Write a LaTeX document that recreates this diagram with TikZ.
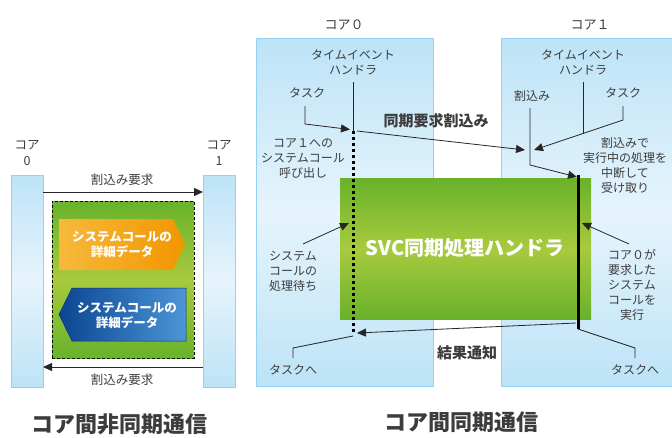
\documentclass[tikz,border=0pt]{standalone}
\usepackage{fontspec}
\setmainfont{Noto Sans CJK JP}
\usetikzlibrary{arrows.meta}
\definecolor{tx}{HTML}{3C3C3C}
\definecolor{pnlTop}{HTML}{BDE3F7}
\definecolor{pnlMid}{HTML}{E6F4FC}
\definecolor{pnlEdge}{HTML}{93D2F2}
\definecolor{grTop}{HTML}{68B22A}
\definecolor{grMid}{HTML}{A8CA3E}
\definecolor{orL}{HTML}{F6B93A}
\definecolor{orR}{HTML}{F29600}
\definecolor{blL}{HTML}{0B4593}
\definecolor{blR}{HTML}{4C95D6}
\begin{document}
\begin{tikzpicture}[x=1pt,y=-1pt,
  every node/.style={inner sep=0pt, outer sep=0pt},
  lbl/.style={text=tx, align=center, font=\fontsize{12}{15}\selectfont},
  title/.style={text=tx, font=\fontsize{22}{24}\selectfont\bfseries},
  mid/.style={text=tx, font=\fontsize{15}{18}\selectfont\bfseries},
  wtxt/.style={text=white, align=center, font=\fontsize{12.5}{15}\selectfont\bfseries},
  panel/.style={draw=pnlEdge, line width=0.8pt, top color=pnlTop, bottom color=pnlTop, middle color=pnlMid},
  greenbox/.style={top color=grTop, bottom color=grTop, middle color=grMid},
  conn/.style={draw=black!85, line width=0.8pt},
  arr/.style={conn, -{Triangle[length=9pt,width=8pt]}},
  dotline/.style={draw=black, line width=3pt, dash pattern=on 3pt off 3pt},
  bar/.style={draw=black, line width=3pt}]
\useasboundingbox (0,0) rectangle (672,437);

% ---------------- left: asynchronous ----------------
\node[panel, minimum width=32pt, minimum height=212pt] (lb0) at (27,281) {};
\node[panel, minimum width=32pt, minimum height=212pt] (lb1) at (219,281) {};
\node[lbl, font=\fontsize{12.5}{16}\selectfont] (lh0) at (27,153) {コア\\0};
\node[lbl, font=\fontsize{12.5}{16}\selectfont] (lh1) at (219,153) {コア\\1};

\node[greenbox, draw=black, line width=0.8pt, dash pattern=on 3pt off 2pt,
      minimum width=142pt, minimum height=157pt] (gbox) at (123,279.5) {};

\shade[left color=orL, right color=orR] (59,219) -- (173,219) -- (185,244.5) -- (173,270) -- (59,270) -- cycle;
\node[wtxt] (orT) at (122,244.5) {システムコールの\\詳細データ};

\shade[left color=blL, right color=blR, draw=blL!80!black, line width=0.5pt] (72,288) -- (186,288) -- (186,341) -- (72,341) -- (59,314.5) -- cycle;
\node[wtxt] (blT) at (127,315.5) {システムコールの\\詳細データ};

\coordinate (la0) at (43,192);
\coordinate (la1) at (203,192);
\draw[arr] (la0) -- (la1);
\node[lbl, font=\fontsize{12.5}{15}\selectfont] (lreq1) at (122,180) {割込み要求};
\coordinate (lb0a) at (203,367);
\coordinate (lb1a) at (43,367);
\draw[arr] (lb0a) -- (lb1a);
\node[lbl, font=\fontsize{12.5}{15}\selectfont] (lreq2) at (122,380) {割込み要求};

\node[title] (ltitle) at (119,424) {コア間非同期通信};

% ---------------- right: synchronous ----------------
\node[panel, minimum width=177pt, minimum height=348pt] (p0) at (344.5,212) {};
\node[panel, minimum width=179pt, minimum height=348pt] (p1) at (590.5,212) {};
\node[lbl, font=\fontsize{13}{15}\selectfont] (h0) at (344,25) {コア０};
\node[lbl, font=\fontsize{13}{15}\selectfont] (h1) at (590,25) {コア１};

\node[greenbox, minimum width=251pt, minimum height=141pt] (svc) at (465.5,248.5) {};
\node[text=white, font=\fontsize{20}{22}\selectfont\bfseries] (svcT) at (465,248.5) {SVC同期処理ハンドラ};

% core 0 labels
\node[lbl] (te0) at (353,62.5) {タイムイベント\\ハンドラ};
\node[lbl] (tk0) at (307,93) {タスク};
\node[lbl] (call0) at (303,159) {コア１への\\システムコール\\呼び出し};
\node[lbl] (wait0) at (293,271) {システム\\コールの\\処理待ち};
\node[lbl] (ret0) at (293,370) {タスクへ};

% core 1 labels
\node[lbl] (te1) at (583,62.5) {タイムイベント\\ハンドラ};
\node[lbl] (ir1) at (532,96) {割込み};
\node[lbl] (tk1) at (623,93) {タスク};
\node[lbl] (rcv1) at (625,165) {割込みで\\実行中の処理を\\中断して\\受け取り};
\node[lbl] (exe1) at (632,285) {コア０が\\要求した\\システム\\コールを\\実行};
\node[lbl] (ret1) at (635,370) {タスクへ};

\node[mid] (syncreq) at (436,121) {同期要求割込み};
\node[mid] (result) at (467,353) {結果通知};

\node[title] (rtitle) at (461,422) {コア間同期通信};

% core 0 connectors
\coordinate (c0top) at (353,131);
\coordinate (c0bot) at (353,334);
\coordinate (te0b) at (353,82);
\draw[conn] (te0b) -- (c0top);
\draw[dotline] (c0top) -- (c0bot);
\coordinate (tk0a) at (305,106);
\coordinate (tk0b) at (305,124);
\coordinate (tk0c) at (350,129.5);
\draw[arr] (tk0a) -- (tk0b) -- (tk0c);
\coordinate (w0a) at (303,244);
\coordinate (w0b) at (349,223);
\draw[arr] (w0a) -- (w0b);
\coordinate (r0a) at (353,336);
\coordinate (r0b) at (293,348);
\coordinate (r0c) at (293,358);
\draw[conn] (r0a) -- (r0b) -- (r0c);

% sync request
\coordinate (sr0) at (357,131);
\coordinate (sr1) at (525,150);
\draw[arr] (sr0) -- (sr1);

% core 1 connectors
\coordinate (tk1a) at (623,106);
\coordinate (tk1b) at (623,120);
\coordinate (tk1c) at (534,150);
\draw[arr] (tk1a) -- (tk1b) -- (tk1c);
\coordinate (te1b) at (583,82);
\coordinate (te1c) at (583,133.5);
\draw[conn] (te1b) -- (te1c);
\coordinate (ir1a) at (530,108);
\coordinate (ir1b) at (530,165);
\coordinate (ir1c) at (577,177);
\draw[arr] (ir1a) -- (ir1b) -- (ir1c);
\coordinate (bt) at (578,175);
\coordinate (bb) at (578,329);
\draw[bar] (bt) -- (bb);
\coordinate (e1a) at (629,244);
\coordinate (e1b) at (582,223);
\draw[arr] (e1a) -- (e1b);
\coordinate (r1a) at (578,329);
\coordinate (r1b) at (635,348);
\coordinate (r1c) at (635,358);
\draw[conn] (r1a) -- (r1b) -- (r1c);

% result
\coordinate (res0) at (576,323);
\coordinate (res1) at (357,333);
\draw[arr] (res0) -- (res1);
\end{tikzpicture}
\end{document}
